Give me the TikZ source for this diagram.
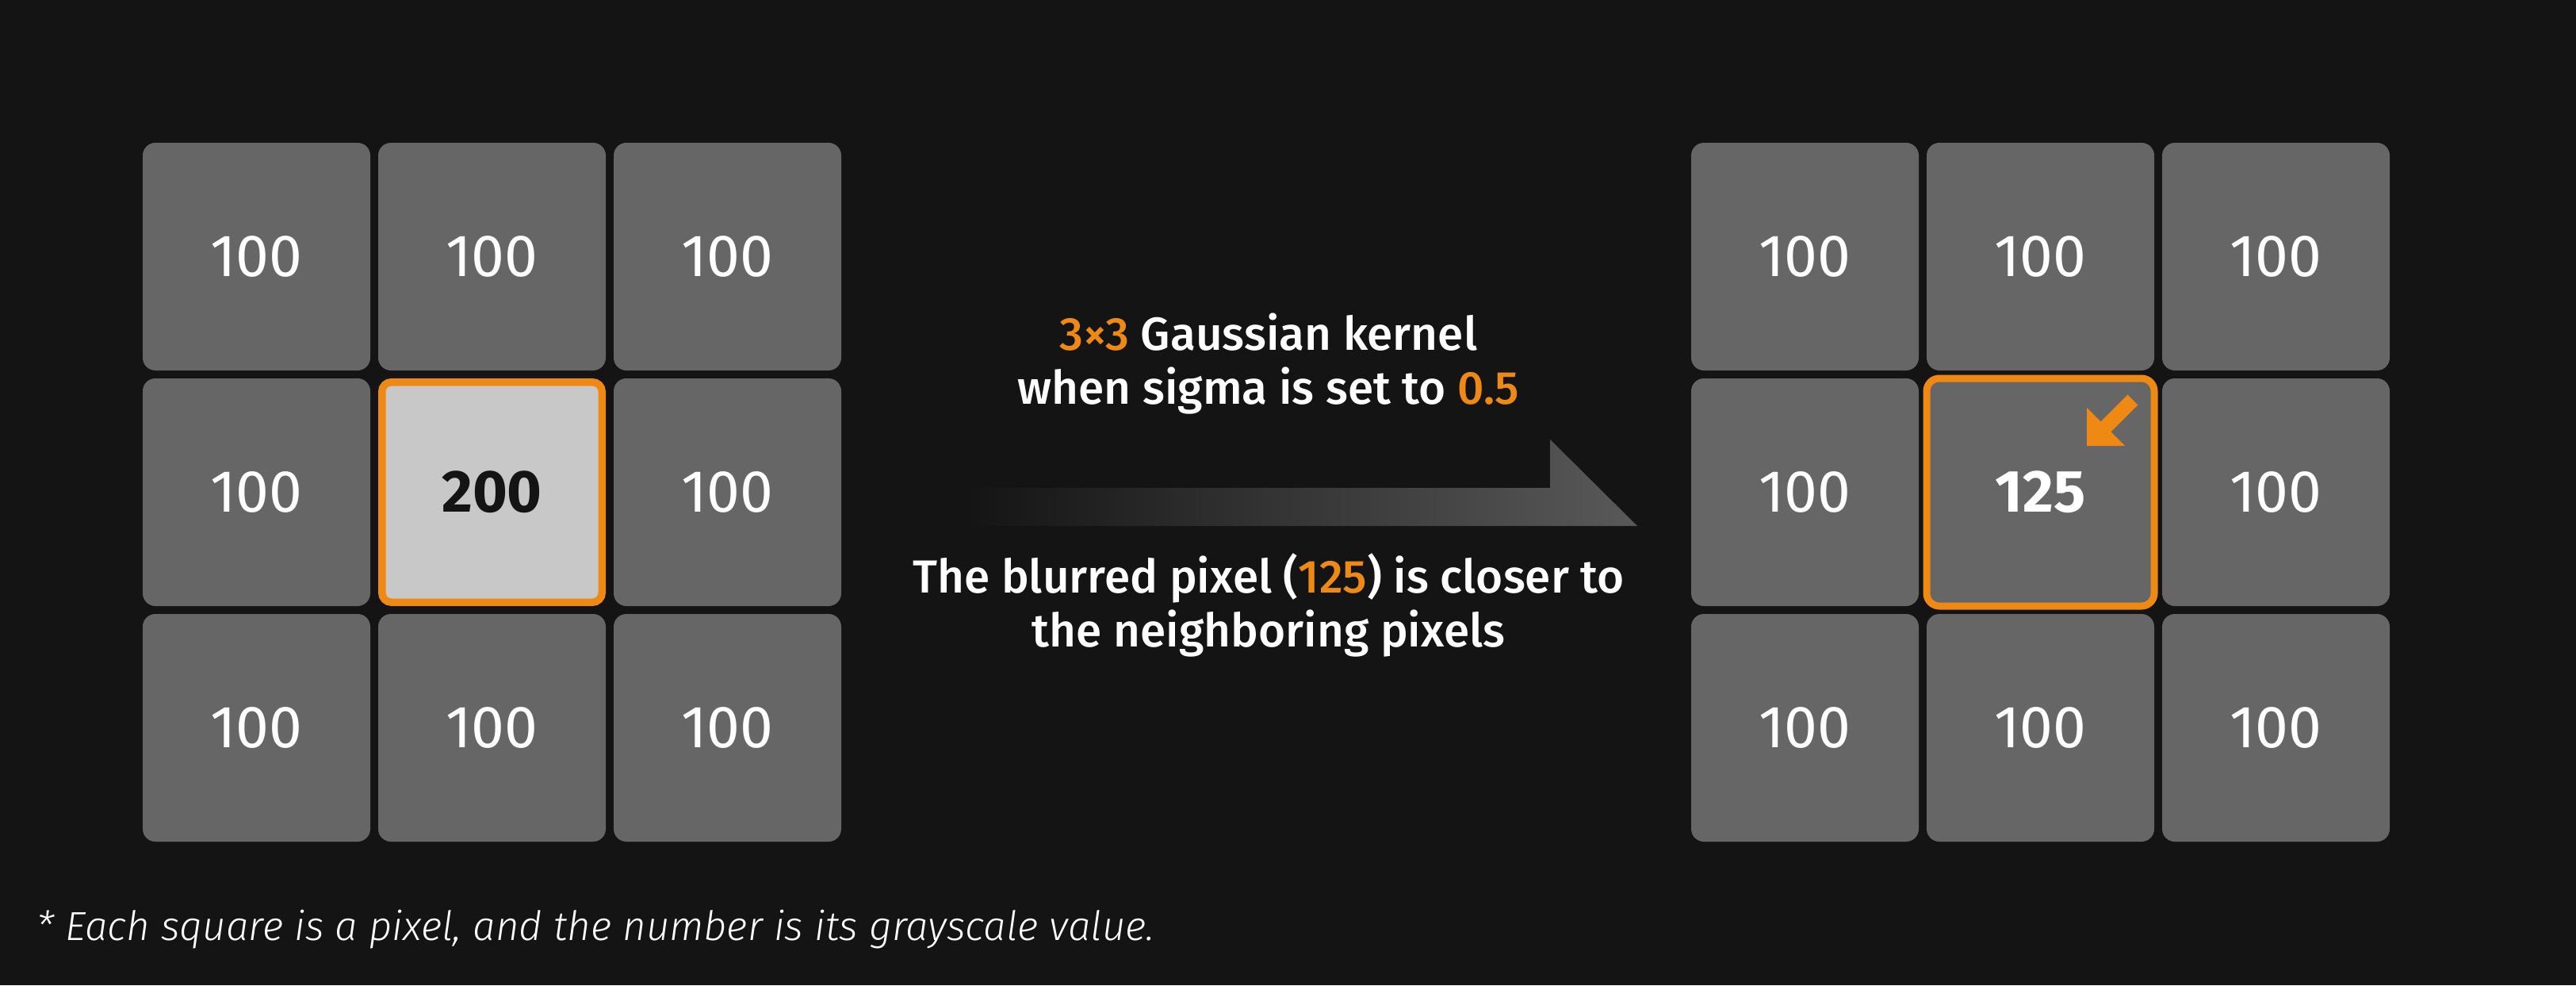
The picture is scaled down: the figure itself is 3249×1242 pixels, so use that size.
\documentclass[tikz,border=0pt]{standalone}
\usepackage{fontspec}
\setmainfont{Fira Sans}
\IfFontExistsTF{Fira Sans Medium}{\newfontfamily\firamed{Fira Sans Medium}}{\newfontfamily\firamed[FakeBold=1.2]{Fira Sans}}
\IfFontExistsTF{Fira Sans Light Italic}{\newfontfamily\firalightit{Fira Sans Light Italic}}{\newfontfamily\firalightit{Fira Sans}\let\firalightitX\firalightit\def\firalightit{\firalightitX\itshape}}
\newcommand\firabold{\bfseries}
\definecolor{bgc}{HTML}{141414}
\definecolor{cellgray}{HTML}{666666}
\definecolor{lightc}{HTML}{C8C8C8}
\definecolor{orangec}{HTML}{EE8A14}
\definecolor{arrowgray}{HTML}{595959}
\tikzset{
  pix/.style={fill=cellgray, rounded corners=16pt, minimum width=287pt, minimum height=287pt,
    inner sep=0pt, text=white, font=\fontsize{75}{75}\selectfont},
  pixbold/.style={font=\firabold\fontsize{75}{75}\selectfont},
  caption/.style={anchor=base, inner sep=0pt, text=white, font=\firamed\fontsize{58.5}{68}\selectfont}
}
\begin{document}
\begin{tikzpicture}[x=1pt,y=-1pt]
\fill[bgc] (0,0) rectangle (3249,1242);
\useasboundingbox (0,0) rectangle (3249,1242);
% left grid
\node[pix] (L11) at (323.5,323.5) {100};
\node[pix] (L12) at (620.5,323.5) {100};
\node[pix] (L13) at (917.5,323.5) {100};
\node[pix] (L21) at (323.5,620.5) {100};
\node[pix, pixbold, fill=lightc, draw=orangec, line width=9.5pt, minimum width=277.5pt, minimum height=277.5pt, rounded corners=12pt, text=bgc] (L22) at (620.5,620.5) {200};
\node[pix] (L23) at (917.5,620.5) {100};
\node[pix] (L31) at (323.5,917.5) {100};
\node[pix] (L32) at (620.5,917.5) {100};
\node[pix] (L33) at (917.5,917.5) {100};
% right grid
\node[pix] (R11) at (2276.5,323.5) {100};
\node[pix] (R12) at (2573.5,323.5) {100};
\node[pix] (R13) at (2870.5,323.5) {100};
\node[pix] (R21) at (2276.5,620.5) {100};
\node[pix, pixbold, draw=orangec, line width=9pt] (R22) at (2573.5,620.5) {125};
\node[pix] (R23) at (2870.5,620.5) {100};
\node[pix] (R31) at (2276.5,917.5) {100};
\node[pix] (R32) at (2573.5,917.5) {100};
\node[pix] (R33) at (2870.5,917.5) {100};
% small orange arrow
\fill[orangec] (2632,562) -- (2632,514) -- (2649.6,531.6) -- (2683.5,497.7) -- (2696.3,510.5) -- (2662.4,544.4) -- (2680,562) -- cycle;
% big arrow
\shade[left color=bgc, right color=arrowgray] (1216,615) -- (1955,615) -- (1955,554) -- (2065,663) -- (1216,663) -- cycle;
% captions
\node[caption] (k1) at (1600,441) {\textcolor{orangec}{3×3} Gaussian kernel};
\node[caption] (k2) at (1600,509) {when sigma is set to \textcolor{orangec}{0.5}};
\node[caption] (b1) at (1600,747) {The blurred pixel (\textcolor{orangec}{125}) is closer to};
\node[caption] (b2) at (1600,815) {the neighboring pixels};
% footnote
\node[anchor=base west, inner sep=0pt, text=white, font=\firalightit\fontsize{51}{60}\selectfont] (foot) at (46,1185) {* Each square is a pixel, and the number is its grayscale value.};
\end{tikzpicture}
\end{document}
